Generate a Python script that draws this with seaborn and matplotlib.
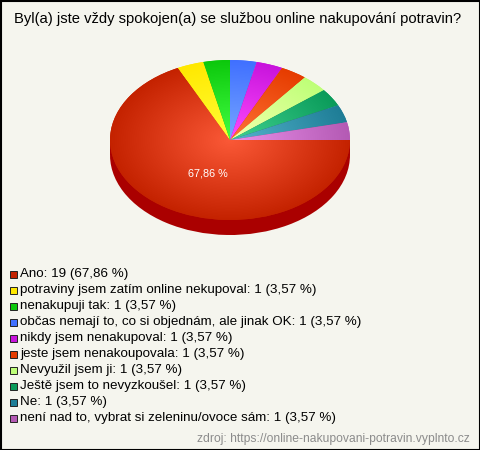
import numpy as np
import seaborn as sns
import matplotlib
matplotlib.use("Agg")
import matplotlib.pyplot as plt
from matplotlib.patches import Rectangle

# Data
title = "Byl(a) jste vždy spokojen(a) se službou online nakupování potravin?"
source = "zdroj: https://online-nakupovani-potravin.vyplnto.cz"
categories = [
    "Ano",
    "potraviny jsem zatím online nekupoval",
    "nenakupuji tak",
    "občas nemají to, co si objednám, ale jinak OK",
    "nikdy jsem nenakupoval",
    "jeste jsem nenakoupovala",
    "Nevyužil jsem ji",
    "Ještě jsem to nevyzkoušel",
    "Ne",
    "není nad to, vybrat si zeleninu/ovoce sám",
]
counts = [19, 1, 1, 1, 1, 1, 1, 1, 1, 1]
percents = [67.86, 3.57, 3.57, 3.57, 3.57, 3.57, 3.57, 3.57, 3.57, 3.57]
colors = ["#C42200", "#FFE800", "#0CC80C", "#4070FF", "#C814DC",
          "#E63C00", "#BEFF78", "#0A9B5A", "#1E7D96", "#B45AB4"]

BG = "#F5F5EE"
SIDE = "#AA0000"
W, H = 480, 450
DEPTH = 15 / 80  # thickness of the pie, in radius units

sns.set_theme(style="white")
plt.rcParams["font.family"] = ["Liberation Sans", "DejaVu Sans"]
palette = sns.color_palette(colors)


def fmt_pct(value):
    return f"{value:.2f} %".replace(".", ",")


fig = plt.figure(figsize=(W / 100, H / 100), dpi=100, facecolor=BG)

# Overlay in pixel coordinates for the frame and the texts
page = fig.add_axes([0, 0, 1, 1], zorder=2)
page.set_xlim(0, W)
page.set_ylim(H, 0)
page.axis("off")
page.patch.set_alpha(0)

# Squashed pie: 240 px wide, 160 px high, plus 15 px of side
ax = fig.add_axes([110 / W, (H - 235) / H, 240 / W, 175 / H], zorder=1)
flat = {"linewidth": 0, "edgecolor": "none"}
ax.pie(counts, colors=[SIDE] * len(counts), startangle=0, counterclock=False,
       center=(0, -DEPTH), frame=True, wedgeprops=flat)
ax.add_patch(Rectangle((-1, -DEPTH), 2, DEPTH, facecolor=SIDE, lw=0))
wedges, _ = ax.pie(counts, colors=palette, startangle=0, counterclock=False,
                   frame=True, wedgeprops=flat)

# Radial gradient over each wedge, lighter towards the centre
xx, yy = np.meshgrid(np.linspace(-1, 1, 480), np.linspace(1, -1, 320))
rr = np.clip(np.hypot(xx, yy), 0, 1)[..., None]
for wedge, col in zip(wedges, palette):
    edge = np.array(col)
    inner = np.clip(edge + 55 / 255, 0, 1)
    img = inner + (edge - inner) * rr
    im = ax.imshow(img, extent=(-1, 1, -1, 1), interpolation="bilinear", zorder=3)
    im.set_clip_path(wedge)

ax.set_aspect("auto")
ax.set_xlim(-1, 1)
ax.set_ylim(-1 - DEPTH, 1)
ax.axis("off")

page.text(208, 173, fmt_pct(percents[0]), color="white",
          fontsize=7.8, ha="center", va="center")

page.text(237.5, 18.5, title, fontsize=10.6, color="black", ha="center", va="center")

# Legend
for i, (cat, n, pct, col) in enumerate(zip(categories, counts, percents, palette)):
    y = 274 + i * 16
    page.add_patch(Rectangle((9.5, y - 3.5), 7, 7, facecolor=col, edgecolor="#222222", lw=0.7))
    page.text(20, y + 0.5, f"{cat}: {n} ({fmt_pct(pct)})", fontsize=9.6,
              color="black", ha="left", va="center")

page.text(470, 439, source, fontsize=8.7, color="#8C8C8C", ha="right", va="center")

# Border
page.add_patch(Rectangle((0.5, 0.5), W - 1, H - 1, fill=False, edgecolor="black", lw=1.5))

fig.savefig("out.png", dpi=100, facecolor=BG)
